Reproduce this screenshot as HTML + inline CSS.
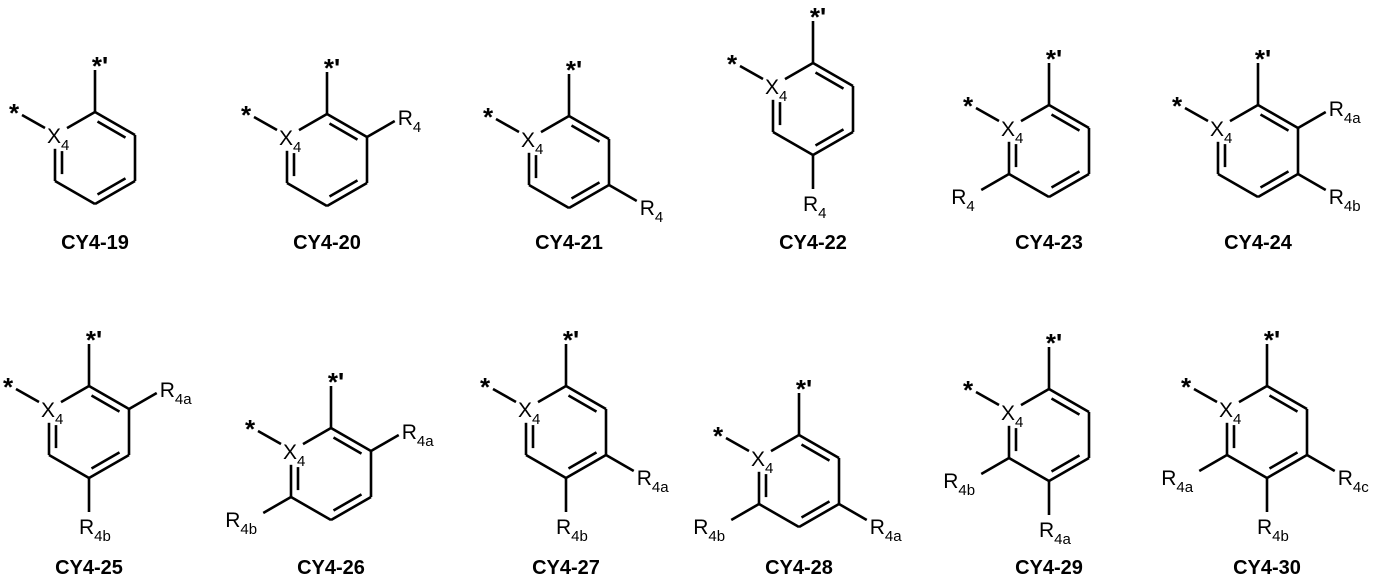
<!DOCTYPE html>
<html><head><meta charset="utf-8"><style>
html,body{margin:0;padding:0;background:#fff;}
svg{display:block;}
text{font-family:"Liberation Sans",Arial,sans-serif;fill:#000;}
</style></head><body>
<svg id="s" width="1375" height="581" viewBox="0 0 1375 581" xmlns="http://www.w3.org/2000/svg"></svg>
<script>
var S=document.getElementById('s'),out='';
function L(a,b,c,d){out+='<line x1="'+a+'" y1="'+b+'" x2="'+c+'" y2="'+d+'" stroke="#000" stroke-width="2.6"/>';}
function T(x,y,s,anch,fs,w){out+='<text x="'+x+'" y="'+y+'" font-size="'+(fs||20)+'" text-anchor="'+(anch||'start')+'"'+(w?' font-weight="bold"':'')+'>'+s+'</text>';}
var mols=[
 [95,158,'CY4-19',242,[]],
 [327,160,'CY4-20',242,[[1,'4','']]],
 [569,162,'CY4-21',242,[[2,'4','']]],
 [813,109,'CY4-22',242,[[3,'4','']]],
 [1049,151,'CY4-23',242,[[4,'4','']]],
 [1258,151,'CY4-24',242,[[1,'4a'],[2,'4b']]],
 [89,432,'CY4-25',567,[[1,'4a'],[3,'4b']]],
 [331,474,'CY4-26',567,[[1,'4a'],[4,'4b']]],
 [566,432,'CY4-27',567,[[2,'4a'],[3,'4b']]],
 [799,481,'CY4-28',567,[[2,'4a'],[4,'4b']]],
 [1049,435,'CY4-29',567,[[3,'4a'],[4,'4b']]],
 [1267,432,'CY4-30',567,[[4,'4a'],[3,'4b'],[2,'4c']]]
];
mols.forEach(function(m){
 var cx=m[0],cy=m[1];
 var V=[[cx,cy-46],[cx+40,cy-23],[cx+40,cy+23],[cx,cy+46],[cx-40,cy+23],[cx-40,cy-23]];
 function sh(p,q,t1,t2){return [p[0]+(q[0]-p[0])*t1,p[1]+(q[1]-p[1])*t1,p[0]+(q[0]-p[0])*t2,p[1]+(q[1]-p[1])*t2];}
 var a;
 a=sh(V[0],V[5],0,0.7);L(a[0],a[1],a[2],a[3]);
 L(V[0][0],V[0][1],V[1][0],V[1][1]);
 L(V[1][0],V[1][1],V[2][0],V[2][1]);
 L(V[2][0],V[2][1],V[3][0],V[3][1]);
 L(V[3][0],V[3][1],V[4][0],V[4][1]);
 a=sh(V[5],V[4],0.3,1);L(a[0],a[1],a[2],a[3]);
 function inner(i,j,t1,t2){var p=V[i],q=V[j];var mx=(p[0]+q[0])/2,my=(p[1]+q[1])/2;var dx=cx-mx,dy=cy-my,l=Math.hypot(dx,dy);var ox=dx/l*7,oy=dy/l*7;var b=sh(p,q,t1,t2);L(b[0]+ox,b[1]+oy,b[2]+ox,b[3]+oy);}
 inner(0,1,0.15,0.85);inner(2,3,0.15,0.85);inner(5,4,0.35,0.85);
 L(V[0][0],V[0][1],V[0][0],V[0][1]-42);
 T(V[0][0]+5,V[0][1]-37,"*'",'middle',26,true);
 L(V[5][0]-10,V[5][1]-7,V[5][0]-33,V[5][1]-20);
 T(V[5][0]-41,V[5][1]-13,'*','middle',26,true);
 out+='<text x="'+(V[5][0]-8)+'" y="'+(V[5][1]+8)+'" font-size="21">X<tspan font-size="15" dy="7">4</tspan></text>';
 m[4].forEach(function(s){
  var v=V[s[0]],dx=v[0]-cx,dy=v[1]-cy,l=Math.hypot(dx,dy);dx/=l;dy/=l;
  var len=s[0]==3?34:32;var ex=v[0]+dx*len,ey=v[1]+dy*len;L(v[0],v[1],ex,ey);
  var txt='R<tspan font-size="15" dy="7">'+s[1]+'</tspan>';
  if(s[0]==3) out+='<text x="'+(ex-10)+'" y="'+(ey+22)+'" font-size="21">'+txt+'</text>';
  else if(dx>0) out+='<text x="'+(ex+3)+'" y="'+(ey+(dy<0?4:14))+'" font-size="21">'+txt+'</text>';
  else out+='<text x="'+(ex-(s[1].length>1?38:30))+'" y="'+(ey+14)+'" font-size="21">'+txt+'</text>';
 });
 T(cx,m[3]+7,m[2],'middle',20,true);
});
S.innerHTML=out;
</script>
</body></html>
